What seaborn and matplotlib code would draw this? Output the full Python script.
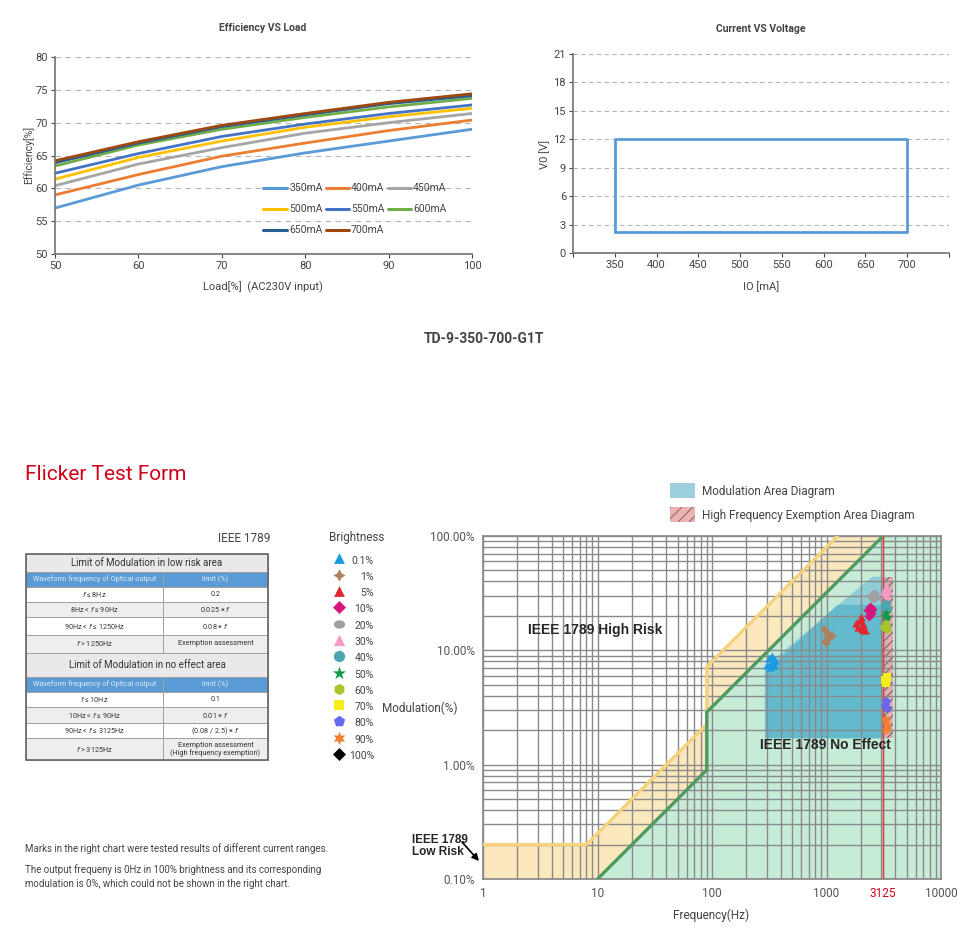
import numpy as np
import pandas as pd
import matplotlib
matplotlib.use("Agg")
import matplotlib.pyplot as plt
import seaborn as sns
from matplotlib.patches import Rectangle
from matplotlib.path import Path
import matplotlib.transforms as mtrans

# ---------------- data ----------------
load = [50, 60, 70, 80, 90, 100]
currents = ["350mA", "400mA", "450mA", "500mA", "550mA", "600mA", "650mA", "700mA"]
eff_350 = [57.0, 60.5, 63.3, 65.4, 67.2, 69.0]
eff_400 = [59.0, 62.1, 64.9, 66.9, 68.8, 70.4]
eff_450 = [60.4, 63.7, 66.2, 68.4, 70.0, 71.4]
eff_500 = [61.4, 64.7, 67.2, 69.3, 70.9, 72.2]
eff_550 = [62.3, 65.3, 67.9, 69.8, 71.4, 72.7]
eff_600 = [63.4, 66.6, 69.0, 70.8, 72.4, 73.7]
eff_650 = [63.9, 66.9, 69.4, 71.2, 72.9, 74.1]
eff_700 = [64.2, 67.1, 69.6, 71.4, 73.1, 74.4]
eff_colors = ["#5b9bd5", "#ed7d31", "#a5a5a5", "#ffc000",
              "#4472c4", "#70ad47", "#255e91", "#9e480e"]

io_min, io_max = 350, 700
vo_min, vo_max = 2.2, 12.0

# IEEE 1789 limit lines
low_risk_freq = [1, 8, 90, 90, 1250]
low_risk_mod = [0.2, 0.2, 2.25, 7.2, 100]
no_effect_freq = [10, 90, 90, 3125]
no_effect_mod = [0.1, 0.9, 2.88, 100]

# modulation area (outer / inner) and exemption strip
mod_area_freq = [290, 290, 2500, 3125, 3125]
mod_area_mod = [1.7, 7.2, 44, 44, 1.7]
mod_core_freq = [290, 290, 1250, 3125, 3125]
mod_core_mod = [1.7, 6.5, 25, 25, 1.7]
exempt_freq = [3125, 3800]
exempt_mod = [1.7, 44]

levels = ["0.1%", "1%", "5%", "10%", "20%", "30%", "40%", "50%",
          "60%", "70%", "80%", "90%", "100%"]
level_colors = ["#1e9be0", "#b07f5e", "#e0282e", "#d6157f", "#a0a0a0", "#f59ac7",
                "#4ba6b0", "#0e9a48", "#a8c62a", "#f7ec1c", "#6a67f0", "#f47f30", "#000000"]

point_level = (["0.1%"] * 8 + ["1%"] * 7 + ["5%"] * 7 + ["10%"] * 5 + ["20%"] * 4
               + ["30%"] * 4 + ["40%"] * 3 + ["50%"] * 3 + ["60%"] * 3 + ["70%"] * 3
               + ["80%"] * 3 + ["90%"] * 4)
point_freq = [300, 315, 325, 335, 345, 355, 320, 340,
              960, 1000, 980, 1050, 1120, 1010, 990,
              1800, 1900, 1950, 2050, 2100, 2000, 2150,
              2300, 2400, 2450, 2500, 2350,
              2450, 2600, 2700, 2550,
              3200, 3350, 3300, 3400,
              3250, 3350, 3300,
              3250, 3350, 3300,
              3200, 3300, 3350,
              3250, 3350, 3300,
              3250, 3300, 3350,
              3250, 3350, 3300, 3280]
point_mod = [7.4, 8.6, 7.8, 9.0, 7.5, 8.2, 7.1, 8.0,
             15.5, 13.5, 12.0, 12.8, 13.6, 14.5, 11.5,
             17.5, 16.0, 18.5, 15.5, 17.0, 19.5, 15.0,
             22.5, 24.0, 21.0, 23.0, 20.0,
             30.0, 31.5, 29.0, 28.0,
             33.0, 35.0, 31.0, 34.0,
             24.0, 23.0, 25.5,
             20.0, 19.5, 21.0,
             16.0, 17.0, 15.5,
             5.5, 5.9, 5.2,
             3.3, 3.6, 3.1,
             2.5, 2.2, 2.0, 2.4]

freq_ticks = [1, 10, 100, 1000, 3125, 10000]
mod_ticks = [0.1, 1, 10, 100]
mod_tick_labels = ["0.10%", "1.00%", "10.00%", "100.00%"]

table_rows = [
    ("Limit of Modulation in low risk area", None, "head"),
    ("Waveform frequency of Optical output", "limit (%)", "blue"),
    ("$f$ ≤ 8Hz", "0.2", "white"),
    ("8Hz < $f$ ≤ 90Hz", "0.025 × $f$", "gray"),
    ("90Hz < $f$ ≤ 1250Hz", "0.08 × $f$", "white"),
    ("$f$ > 1250Hz", "Exemption assessment", "gray"),
    ("Limit of Modulation in no effect area", None, "head"),
    ("Waveform frequency of Optical output", "limit (%)", "blue"),
    ("$f$ ≤ 10Hz", "0.1", "white"),
    ("10Hz < $f$ ≤ 90Hz", "0.01 × $f$", "gray"),
    ("90Hz < $f$ ≤ 3125Hz", "(0.08 / 2.5) × $f$", "white"),
    ("$f$ > 3125Hz", "Exemption assessment\n(High frequency exemption)", "gray"),
]
row_heights = [17.4, 15, 15, 15.6, 17.7, 17.7, 24, 15, 15, 16.6, 15, 21.7]

# ---------------- style ----------------
sns.set_theme(style="white")
plt.rcParams["font.family"] = ["Roboto", "DejaVu Sans"]
plt.rcParams["hatch.linewidth"] = 0.8
txt = "#444444"

fig = plt.figure(figsize=(9.68, 9.38), dpi=100)

# ---------------- Efficiency VS Load ----------------
ax1 = fig.add_axes([0.0568, 0.7292, 0.4308, 0.2100])
eff_df = pd.DataFrame({
    "Load": load * len(currents),
    "Eff": eff_350 + eff_400 + eff_450 + eff_500 + eff_550 + eff_600 + eff_650 + eff_700,
    "Current": [c for c in currents for _ in load],
})
sns.lineplot(data=eff_df, x="Load", y="Eff", hue="Current", hue_order=currents,
             palette=eff_colors, linewidth=2, ax=ax1)
ax1.set_xlim(50, 100)
ax1.set_ylim(50, 80)
ax1.set_xticks(range(50, 101, 10))
ax1.set_yticks(range(50, 81, 5))
ax1.set_xlabel("")
ax1.set_ylabel("")
ax1.yaxis.grid(True, linestyle=(0, (5, 4)), color="#b5b5b5", linewidth=0.8)
for s in ["top", "right"]:
    ax1.spines[s].set_visible(False)
for s in ["left", "bottom"]:
    ax1.spines[s].set_color("#777777")
ax1.tick_params(axis="both", labelsize=8, colors=txt, length=3, width=0.8,
                direction="out", left=True, bottom=True, pad=2)
# legend filled row by row (matplotlib fills columns first)
handles, labels = ax1.get_legend_handles_labels()
order = [0, 3, 6, 1, 4, 7, 2, 5]
leg = ax1.legend([handles[i] for i in order], [labels[i] for i in order],
                 ncol=3, loc="upper left", bbox_to_anchor=(0.49, 0.38), frameon=False,
                 fontsize=7.5, handlelength=2.3, handletextpad=0.15, columnspacing=0.3,
                 labelspacing=1.05, borderaxespad=0)
for t in leg.get_texts():
    t.set_color(txt)
for l in leg.get_lines():
    l.set_linewidth(2.2)

# ---------------- Current VS Voltage ----------------
ax2 = fig.add_axes([0.5919, 0.7303, 0.3884, 0.2122])
sns.lineplot(x=[io_min, io_max, io_max, io_min, io_min],
             y=[vo_min, vo_min, vo_max, vo_max, vo_min],
             sort=False, estimator=None, color="#5b9bd5", linewidth=2, ax=ax2)
ax2.set_xlim(300, 750)
ax2.set_ylim(0, 21)
ax2.set_xticks(range(300, 751, 50))
ax2.set_xticklabels([""] + [str(v) for v in range(350, 701, 50)] + [""])
ax2.set_yticks(range(0, 22, 3))
ax2.yaxis.grid(True, linestyle=(0, (4, 3)), color="#b5b5b5", linewidth=0.8)
for s in ["top", "right"]:
    ax2.spines[s].set_visible(False)
for s in ["left", "bottom"]:
    ax2.spines[s].set_color("#777777")
ax2.tick_params(axis="both", labelsize=8, colors=txt, length=3, width=0.8,
                direction="out", left=True, bottom=True, pad=2)

# ---------------- Flicker chart ----------------
ax3 = fig.add_axes([0.4990, 0.0629, 0.4731, 0.3657])
ax3.set_xscale("log")
ax3.set_yscale("log")
ax3.set_xlim(1, 10000)
ax3.set_ylim(0.1, 100)

yellow_x = low_risk_freq + [3125] + no_effect_freq[::-1][1:] + [1]
yellow_y = low_risk_mod + [100] + no_effect_mod[::-1][1:] + [0.1]
ax3.fill(yellow_x, yellow_y, color="#fce8bd", zorder=1, linewidth=0)
green_x = no_effect_freq + [10000, 10000]
green_y = no_effect_mod + [100, 0.1]
ax3.fill(green_x, green_y, color="#c6ebd7", zorder=1, linewidth=0)

ax3.fill(mod_area_freq, mod_area_mod, color="#86c9d8", alpha=0.85, zorder=1.5, linewidth=0)
ax3.fill(mod_core_freq, mod_core_mod, color="#5ab5cb", alpha=0.8, zorder=1.6, linewidth=0)
ax3.fill_between(exempt_freq, exempt_mod[0], exempt_mod[1], facecolor="#e2adb0",
                 edgecolor="#6f6767", hatch="////", linewidth=0, zorder=1.7)

ax3.grid(True, which="both", color="#8a8a8a", linewidth=1.0, zorder=2)
ax3.set_axisbelow(False)

sns.lineplot(x=low_risk_freq, y=low_risk_mod, sort=False, estimator=None,
             color="#f6d27c", linewidth=2.4, ax=ax3, zorder=3)
sns.lineplot(x=no_effect_freq, y=no_effect_mod, sort=False, estimator=None,
             color="#4f9a62", linewidth=2.4, ax=ax3, zorder=3)
ax3.axvline(3125, color="#e83a3a", linewidth=1.0, zorder=3)

ellipse = Path.unit_circle().transformed(mtrans.Affine2D().scale(1.35, 1.0))
level_markers = ["^", (4, 1, 0), "^", "D", ellipse, "^", "o", "*", "h", "s", "p", (6, 1, 0), "D"]
level_sizes = [55, 70, 55, 40, 60, 60, 60, 90, 60, 50, 65, 80, 40]

pts = pd.DataFrame({"level": point_level, "freq": point_freq, "mod": point_mod})
for lv, col, mk, sz in zip(levels, level_colors, level_markers, level_sizes):
    sub = pts[pts["level"] == lv]
    if len(sub) == 0:
        continue
    sns.scatterplot(data=sub, x="freq", y="mod", marker=mk, color=col, s=sz * 0.65,
                    linewidth=0, ax=ax3, zorder=4, legend=False)

ax3.set_xlabel("")
ax3.set_ylabel("")
ax3.set_xticks(freq_ticks)
ax3.set_xticklabels([str(v) for v in freq_ticks])
ax3.xaxis.set_minor_formatter(matplotlib.ticker.NullFormatter())
ax3.set_yticks(mod_ticks)
ax3.set_yticklabels(mod_tick_labels)
ax3.yaxis.set_minor_formatter(matplotlib.ticker.NullFormatter())
ax3.tick_params(axis="both", which="both", length=0, labelsize=8.5, colors="#555555", pad=6)
ax3.get_xticklabels()[4].set_color("#d0021b")
for s in ax3.spines.values():
    s.set_color("#8a8a8a")

ax3.text(2.47, 15.1, "IEEE 1789 High Risk", fontsize=10, fontweight="bold",
         family="Liberation Sans", ha="left", va="center", zorder=5)
ax3.text(262, 1.49, "IEEE 1789 No Effect", fontsize=10, fontweight="bold",
         family="Liberation Sans", ha="left", va="center", zorder=5)

# ---------------- overlay text / table / legends ----------------
ov = fig.add_axes([0, 0, 1, 1])
ov.set_xlim(0, 968)
ov.set_ylim(938, 0)
ov.axis("off")

ov.text(263, 28, "Efficiency VS Load", ha="center", va="center", fontsize=7.5,
        fontweight="bold", color=txt)
ov.text(263, 287, "Load[%]  (AC230V input)", ha="center", va="center", fontsize=8, color=txt)
ov.text(29, 155, "Efficiency[%]", ha="center", va="center", rotation=90, fontsize=7.5, color=txt)
ov.text(761, 29, "Current VS Voltage", ha="center", va="center", fontsize=7.5,
        fontweight="bold", color=txt)
ov.text(761, 287, "IO [mA]", ha="center", va="center", fontsize=8, color=txt)
ov.text(545, 154, "V0 [V]", ha="center", va="center", rotation=90, fontsize=8, color=txt)

ov.text(484, 339, "TD-9-350-700-G1T", ha="center", va="center", fontsize=10,
        fontweight="bold", color="#444444")
ov.text(25, 475, "Flicker Test Form", ha="left", va="center", fontsize=15, color="#d0021b")

# area legend
ov.add_patch(Rectangle((670, 483), 25, 15, facecolor="#9dcfdd", edgecolor="none"))
ov.text(702, 491, "Modulation Area Diagram", ha="left", va="center", fontsize=8.5, color=txt)
ov.add_patch(Rectangle((670, 507), 25, 15, facecolor="#eeb2b2", edgecolor="#8a7070",
                       hatch="///", linewidth=0))
ov.text(702, 515, "High Frequency Exemption Area Diagram", ha="left", va="center",
        fontsize=8.5, color=txt)

ov.text(244, 538, "IEEE 1789", ha="center", va="center", fontsize=8.5, color=txt)
ov.text(357, 538, "Brightness", ha="center", va="center", fontsize=8.5, color=txt)

# brightness legend
for i, (lv, col, mk, sz) in enumerate(zip(levels, level_colors, level_markers, level_sizes)):
    yy = 560.5 + i * 16.3
    ov.scatter([339], [yy - 2], marker=mk, color=col, s=sz * 1.1, linewidth=0)
    ov.text(374, yy, lv, ha="right", va="center", fontsize=7.5, color=txt)

# table
x0, xm, x1 = 26, 163, 268
y = 554.3
fills = {"head": "#e9e9e9", "blue": "#5b9bd5", "white": "#ffffff", "gray": "#eeeeee"}
for (left, right, kind), h in zip(table_rows, row_heights):
    if kind == "head":
        ov.add_patch(Rectangle((x0, y), x1 - x0, h, facecolor=fills[kind],
                               edgecolor="#a0a0a0", linewidth=0.7))
        ov.text((x0 + x1) / 2, y + h / 2, left, ha="center", va="center",
                fontsize=7, color="#333333")
    else:
        for cx0, cx1, label in [(x0, xm, left), (xm, x1, right)]:
            ov.add_patch(Rectangle((cx0, y), cx1 - cx0, h, facecolor=fills[kind],
                                   edgecolor="#a0a0a0", linewidth=0.7))
            ov.text((cx0 + cx1) / 2, y + h / 2, label, ha="center", va="center",
                    fontsize=5.2, color="#dde8f4" if kind == "blue" else "#333333",
                    linespacing=1.0)
    y += h
ov.add_patch(Rectangle((x0, 554.3), x1 - x0, y - 554.3, facecolor="none",
                       edgecolor="#666666", linewidth=1.2))

ov.text(25, 849, "Marks in the right chart were tested results of different current ranges.",
        ha="left", va="center", fontsize=7, color=txt)
ov.text(25, 870, "The output frequeny is 0Hz in 100% brightness and its corresponding",
        ha="left", va="center", fontsize=7, color=txt)
ov.text(25, 884, "modulation is 0%, which could not be shown in the right chart.",
        ha="left", va="center", fontsize=7, color=txt)

ov.text(420, 708, "Modulation(%)", ha="center", va="center", fontsize=8.5, color=txt)
ov.text(711, 915, "Frequency(Hz)", ha="center", va="center", fontsize=8.5, color=txt)

ov.text(412, 846, "IEEE 1789\nLow Risk", ha="left", va="center", fontsize=8.5,
        fontweight="bold", family="Liberation Sans", linespacing=1.05)
ov.annotate("", xy=(479, 861), xytext=(462, 842),
            arrowprops=dict(arrowstyle="-|>", color="black", lw=1.2, mutation_scale=10,
                            shrinkA=0, shrinkB=0))

fig.savefig("out.png", dpi=100)
